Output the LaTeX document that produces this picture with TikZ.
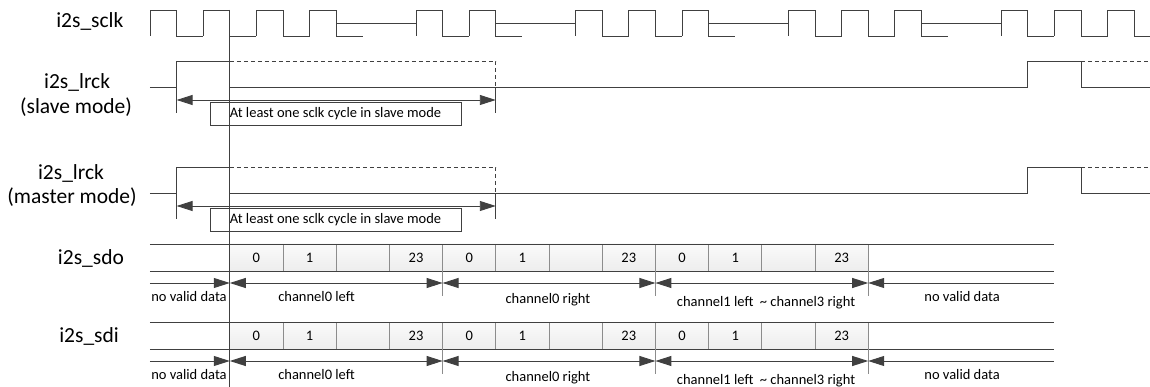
\documentclass[tikz,border=0pt]{standalone}
\usepackage{fontspec}
\setmainfont{Carlito}
\usetikzlibrary{arrows.meta,positioning}
\definecolor{wavegray}{HTML}{404040}
\definecolor{edgegray}{HTML}{8C8C8C}

\tikzset{
  wave/.style={wavegray,line width=0.9pt},
  edge/.style={edgegray,line width=0.9pt},
  span/.style={wave,<->},
  sig/.style={font=\fontsize{21.5}{25}\selectfont,anchor=base,inner sep=0pt},
  small/.style={font=\fontsize{14.5}{17}\selectfont,inner sep=0pt},
  notebox/.style={draw=wavegray,line width=0.8pt,small,minimum width=251pt,minimum height=23pt},
  cell/.style={draw=edgegray,line width=0.8pt,small,top color=gray!4,bottom color=gray!14,
               minimum width=53.2pt,minimum height=27pt}
}

\begin{document}
\begin{tikzpicture}[x=26.6pt,y=-1pt,>={Triangle[length=16pt,width=10pt]}]
  \useasboundingbox (-5.639,0) rectangle (37.594,387);

  % signal names
  \node[sig] (sclk)  at (-2.26,28)  {i2s\_sclk};
  \node[sig] (lrckS) at (-2.74,89)  {i2s\_lrck};
  \node[sig] (modeS) at (-2.78,114) {(slave mode)};
  \node[sig] (lrckM) at (-2.97,180) {i2s\_lrck};
  \node[sig] (modeM) at (-2.93,204) {(master mode)};
  \node[sig] (sdo)   at (-2.22,264) {i2s\_sdo};
  \node[sig] (sdi)   at (-2.29,342) {i2s\_sdi};

  % sclk (one unit = half a clock period)
  \foreach \n in {0,2,4,6,10,12,16,18,20,24,26,28,32,34}
    \draw[wave] (\n,36) -- (\n,10) -- (\n+1,10) -- (\n+1,36) -- (\n+2,36);
  \draw[wave] (36,36) -- (36,10) -- (37,10) -- (37,36) -- (37.594,36);
  \foreach \a/\b in {7/10,13/16,21/24,29/32}
    \draw[wave] (\a,23) -- (\b,23);

  % lrck, slave mode and master mode
  \foreach \dy/\nm in {0/S,106/M} {
    \begin{scope}[shift={(0,\dy)}]
      \draw[wave] (0,87) -- (1,87) -- (1,61) -- (3,61);
      \draw[wave,dash pattern=on 4pt off 3pt] (3,61) -- (13,61) -- (13,87);
      \draw[wave] (3,87) -- (33,87) -- (33,61) -- (35,61) -- (35,87) -- (37.594,87);
      \draw[wave,dash pattern=on 4pt off 3pt] (35,61) -- (37.594,61);
      \draw[wave] (1,87) -- (1,113);
      \draw[wave] (13,87) -- (13,113);
      \coordinate (from\nm) at (1,100);
      \coordinate (to\nm) at (13,100);
      \draw[span] (from\nm) -- (to\nm);
      \node[notebox] (note\nm) at (6.974,113.5) {At least one sclk cycle in slave mode};
    \end{scope}
  }

  % data lines sdo and sdi
  \foreach \dy/\nm in {0/sdo,78/sdi} {
    \begin{scope}[shift={(0,\dy)}]
      \foreach \t [count=\i] in {0,1,{},23,0,1,{},23,0,1,{},23}
        \node[cell] (\nm c\i) at ({2+2*\i},257.5) {\t};
      \draw[wave] (0,244) -- (34,244);
      \draw[wave] (0,271) -- (34,271);
      \foreach \x in {11,19,27}
        \draw[edge] (\x,271) -- (\x,296);
      \coordinate (\nm p0) at (0,283);
      \coordinate (\nm p1) at (3,283);
      \coordinate (\nm p2) at (11,283);
      \coordinate (\nm p3) at (19,283);
      \coordinate (\nm p4) at (27,283);
      \coordinate (\nm p5) at (34,283);
      \draw[wave,->] (\nm p0) -- (\nm p1);
      \draw[span] (\nm p1) -- (\nm p2);
      \draw[span] (\nm p2) -- (\nm p3);
      \draw[span] (\nm p3) -- (\nm p4);
      \draw[wave,<-] (\nm p4) -- (\nm p5);
      \node[small,anchor=base] (\nm l0) at (1.466,301) {no valid data};
      \node[small,anchor=base] (\nm l1) at (6.26,301)  {channel0 left};
      \node[small,anchor=base] (\nm l2) at (14.96,303) {channel0 right};
      \node[small,anchor=base] (\nm l3) at (23.16,306) {channel1 left\ \ \textasciitilde\ channel3 right};
      \node[small,anchor=base] (\nm l4) at (30.53,301) {no valid data};
    \end{scope}
  }

  % reference edge
  \draw[wave] (3,10) -- (3,387);
\end{tikzpicture}
\end{document}
